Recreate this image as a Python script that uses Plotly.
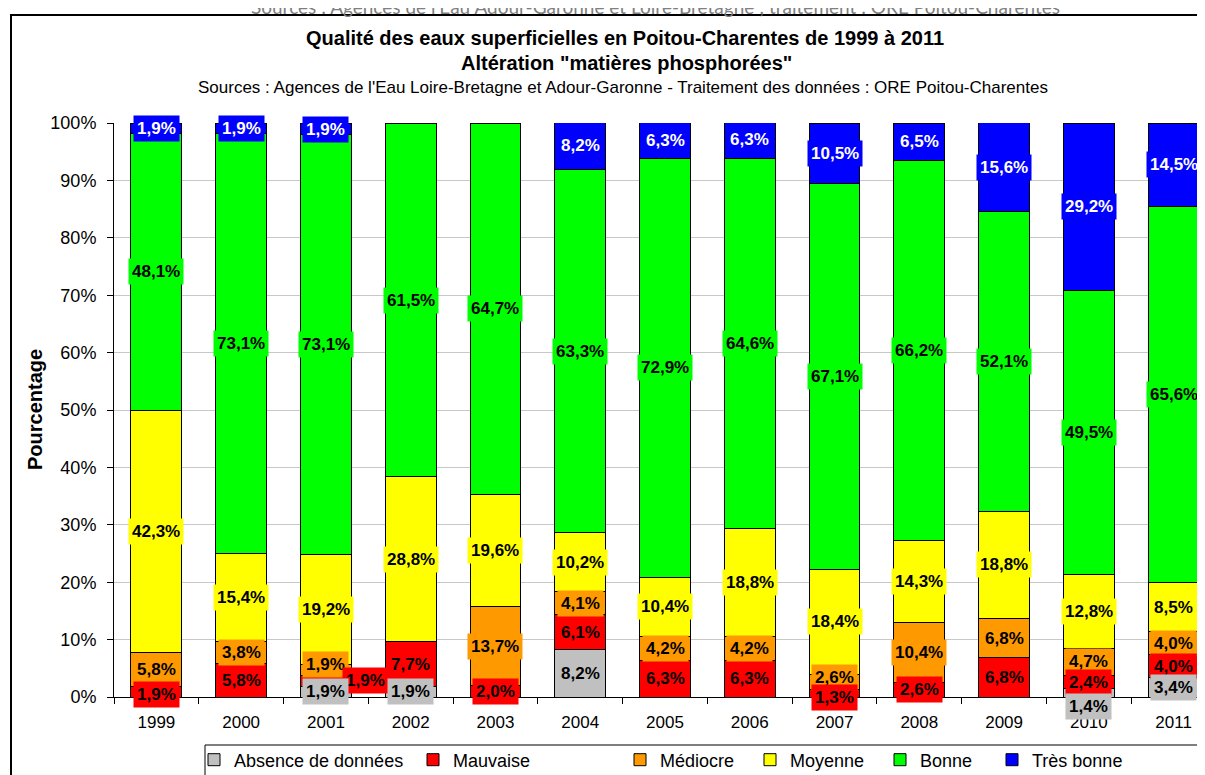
import plotly.graph_objects as go

years = ["1999", "2000", "2001", "2002", "2003", "2004", "2005", "2006",
         "2007", "2008", "2009", "2010", "2011"]

absence    = [0, 0, 1.9, 1.9, 0, 8.2, 0, 0, 0, 0, 0, 1.4, 3.4]
mauvaise   = [1.9, 5.8, 1.9, 7.7, 2.0, 6.1, 6.3, 6.3, 1.3, 2.6, 6.8, 2.4, 4.0]
mediocre   = [5.8, 3.8, 1.9, 0, 13.7, 4.1, 4.2, 4.2, 2.6, 10.4, 6.8, 4.7, 4.0]
moyenne    = [42.3, 15.4, 19.2, 28.8, 19.6, 10.2, 10.4, 18.8, 18.4, 14.3, 18.8, 12.8, 8.5]
bonne      = [48.1, 73.1, 73.1, 61.5, 64.7, 63.3, 72.9, 64.6, 67.1, 66.2, 52.1, 49.5, 65.6]
tres_bonne = [1.9, 1.9, 1.9, 0, 0, 8.2, 6.3, 6.3, 10.5, 6.5, 15.6, 29.2, 14.5]

series = [
    ("Absence de données", absence, "#C0C0C0", "black"),
    ("Mauvaise", mauvaise, "#FF0000", "black"),
    ("Médiocre", mediocre, "#FF9900", "black"),
    ("Moyenne", moyenne, "#FFFF00", "black"),
    ("Bonne", bonne, "#00FF00", "black"),
    ("Très bonne", tres_bonne, "#0000FF", "white"),
]

# page geometry: the html body adds an 8px margin
OFF = 8
W, H = 1205 - OFF, 775 - OFF
L, R = 114 - OFF, 0
T = 123 - OFF
B = H - (697 - OFF)
PW = W - L - R
PH = H - T - B

def px_x(px):
    return (px - OFF - L) / PW

def px_y(py):
    return (H - B - (py - OFF)) / PH

# legend symbol positions (page px)
legend_px = [208, 427, 634, 764, 894, 1006]

FONT = "Liberation Sans, Arial, sans-serif"

fig = go.Figure()
for i, (name, vals, color, _) in enumerate(series):
    fig.add_trace(go.Bar(
        x=years, y=vals, name=name,
        marker=dict(color=color, line=dict(color="black", width=1)),
        legend="legend" if i == 0 else f"legend{i+1}",
        hoverinfo="skip",
    ))

# data labels
offsets = {
    ("Mauvaise", "2001"): (40, 0),
    ("Absence de données", "2010"): (0, -14),
    ("Mauvaise", "1999"): (0, -3),
    ("Mauvaise", "2007"): (0, -4),
    ("Médiocre", "2001"): (0, 5),
    ("Médiocre", "2007"): (0, 5),
}

bases = [0.0] * len(years)
label_items = []
for name, vals, color, tcolor in series:
    for j, v in enumerate(vals):
        if v > 0:
            label_items.append((name, j, bases[j] + v / 2, v, color, tcolor))
        bases[j] += v

order = ["Très bonne", "Bonne", "Moyenne", "Médiocre", "Mauvaise", "Absence de données"]
annotations = []
for nm in order:
    for name, j, ymid, v, color, tcolor in label_items:
        if name != nm:
            continue
        xs, ys = offsets.get((name, years[j]), (0, 0))
        annotations.append(dict(
            x=j, y=ymid, xref="x", yref="y",
            text=f"{v:.1f}".replace(".", ",") + "%",
            showarrow=False, xshift=xs, yshift=ys,
            font=dict(family=FONT, size=17, color=tcolor, weight="bold"),
            bgcolor=color, borderpad=3,
        ))

# titles
annotations += [
    dict(x=px_x(655), y=px_y(6), xref="paper", yref="paper", showarrow=False,
         text="Sources : Agences de l'Eau Adour-Garonne et Loire-Bretagne ; traitement : ORE Poitou-Charentes",
         font=dict(family="Lato, Open Sans, sans-serif", size=19, color="#808080"),
         xanchor="center", yanchor="middle"),
    dict(x=px_x(625), y=px_y(38), xref="paper", yref="paper", showarrow=False,
         text="Qualité des eaux superficielles en Poitou-Charentes de 1999 à 2011",
         font=dict(family=FONT, size=20, color="black", weight="bold"),
         xanchor="center", yanchor="middle"),
    dict(x=px_x(626), y=px_y(63), xref="paper", yref="paper", showarrow=False,
         text="Altération \"matières phosphorées\"",
         font=dict(family=FONT, size=20, color="black", weight="bold"),
         xanchor="center", yanchor="middle"),
    dict(x=px_x(623), y=px_y(88), xref="paper", yref="paper", showarrow=False,
         text="Sources : Agences de l'Eau Loire-Bretagne et Adour-Garonne - Traitement des données : ORE Poitou-Charentes",
         font=dict(family=FONT, size=17, color="black"),
         xanchor="center", yanchor="middle"),
    dict(x=px_x(35), y=px_y(410), xref="paper", yref="paper", showarrow=False,
         text="Pourcentage", textangle=-90,
         font=dict(family=FONT, size=20, color="black", weight="bold"),
         xanchor="center", yanchor="middle"),
]

shapes = [
    dict(type="rect", xref="paper", yref="paper",
         x0=px_x(11), x1=px_x(1230), y0=px_y(15), y1=px_y(800),
         line=dict(color="black", width=2), fillcolor="rgba(0,0,0,0)", layer="below"),
    dict(type="rect", xref="paper", yref="paper",
         x0=px_x(205), x1=px_x(1230), y0=px_y(745), y1=px_y(800),
         line=dict(color="black", width=1), fillcolor="rgba(0,0,0,0)"),
]

layout_legends = {}
for i, lp in enumerate(legend_px):
    key = "legend" if i == 0 else f"legend{i+1}"
    layout_legends[key] = dict(
        x=px_x(lp - 14), y=px_y(760), xanchor="left", yanchor="middle",
        orientation="h", bgcolor="rgba(0,0,0,0)", borderwidth=0,
        font=dict(family=FONT, size=18, color="black"),
        itemwidth=30,
    )

fig.update_layout(
    width=W, height=H,
    margin=dict(l=L, r=R, t=T, b=B, autoexpand=False),
    barmode="stack", bargap=0.4,
    paper_bgcolor="white", plot_bgcolor="white",
    showlegend=True,
    xaxis=dict(type="category", range=[-0.5, 12.37], showline=True,
               linecolor="black", linewidth=1, ticks="outside", tickson="boundaries",
               ticklen=6, tickcolor="black", showgrid=False, ticklabelstandoff=10,
               tickfont=dict(family=FONT, size=17, color="black"), fixedrange=True),
    yaxis=dict(range=[0, 100], dtick=10, ticksuffix="%", showline=True,
               linecolor="black", linewidth=1, ticks="outside", ticklen=6,
               tickcolor="black", showgrid=True, gridcolor="#C8C8C8", gridwidth=1,
               ticklabelstandoff=7,
               tickfont=dict(family=FONT, size=18, color="black"),
               zeroline=False, fixedrange=True),
    annotations=annotations,
    shapes=shapes,
    **layout_legends,
)

fig.write_html("out.html")
